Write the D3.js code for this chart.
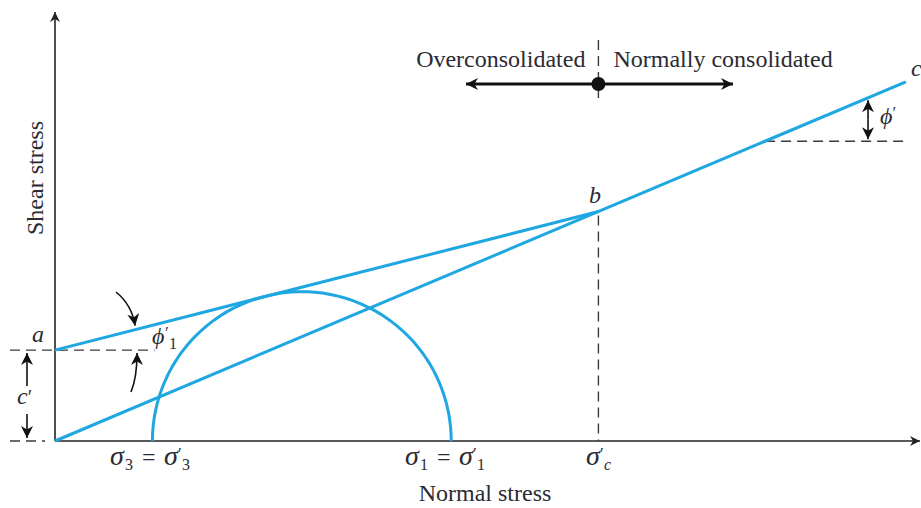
<!DOCTYPE html>
<html>
<head>
<meta charset="utf-8">
<script src="https://cdn.jsdelivr.net/npm/d3@7"></script>
<style>
  body { margin: 0; background: #fff; }
  text { font-family: "Liberation Serif", "DejaVu Serif", serif; fill: #2b2b33; }
  .it { font-style: italic; }
</style>
</head>
<body>
<div id="chart"></div>
<script>
// Stress values (arbitrary units, same scale on both axes)
const principalStresses = [45, 183];      // sigma3, sigma1
const preconsolidation = [251];           // sigma'c
const cohesion = [42];                    // c'
const envelopeB = [251, 106];             // point b (sigma, tau)
const envelopeEnd = [393];                // sigma at point c
const regionLabels = ["Overconsolidated", "Normally consolidated"];
const axisTitles = ["Normal stress", "Shear stress"];
const stressSubs = ["3", "1", "c"];

const width = 921, height = 508;
const BLUE = "#1fa7e1", DASH = "#3a3a3a";

const svg = d3.select("#chart").append("svg")
  .attr("width", width)
  .attr("height", height);

// equal unit length on both axes so the Mohr circle stays round
const x = d3.scaleLinear().domain([0, 400]).range([55, 921]);
const y = d3.scaleLinear().domain([0, 198.2]).range([441, 12]);

// arrow markers
const defs = svg.append("defs");
function marker(id, w, h, color) {
  defs.append("marker")
    .attr("id", id)
    .attr("viewBox", "0 0 10 10")
    .attr("refX", 10).attr("refY", 5)
    .attr("markerUnits", "userSpaceOnUse")
    .attr("markerWidth", w).attr("markerHeight", h)
    .attr("orient", "auto-start-reverse")
    .append("path")
    .attr("d", "M0,0 L10,5 L0,10 L3,5 Z")
    .attr("fill", color);
}
marker("axisHead", 14, 10, "#222");
marker("head", 15, 12, "#111");

const slopeNC = envelopeB[1] / envelopeB[0];
const slopeOC = (envelopeB[1] - cohesion[0]) / envelopeB[0];
const tauNC = s => slopeNC * s;

// ---------- axes ----------
svg.append("line")
  .attr("x1", x(0)).attr("y1", y(0))
  .attr("x2", width - 1).attr("y2", y(0))
  .attr("stroke", "#222").attr("stroke-width", 1.6)
  .attr("marker-end", "url(#axisHead)");
svg.append("line")
  .attr("x1", x(0)).attr("y1", y(0))
  .attr("x2", x(0)).attr("y2", 12)
  .attr("stroke", "#222").attr("stroke-width", 1.6)
  .attr("marker-end", "url(#axisHead)");

svg.append("text")
  .attr("transform", "translate(43,178) rotate(-90)")
  .attr("text-anchor", "middle")
  .style("font-size", "24px")
  .text(axisTitles[1]);
svg.append("text")
  .attr("x", 485).attr("y", 501)
  .attr("text-anchor", "middle")
  .style("font-size", "24px")
  .text(axisTitles[0]);

// ---------- dashed guides ----------
const dashed = (x1, y1, x2, y2) => svg.append("line")
  .attr("x1", x1).attr("y1", y1).attr("x2", x2).attr("y2", y2)
  .attr("stroke", DASH).attr("stroke-width", 1.4)
  .attr("stroke-dasharray", "10,6");

dashed(10, y(0), 45, y(0));
dashed(10, y(cohesion[0]), x(46), y(cohesion[0]));
dashed(x(preconsolidation[0]), 40, x(preconsolidation[0]), 102);
dashed(x(preconsolidation[0]), y(envelopeB[1]) + 4, x(preconsolidation[0]), y(0));
dashed(x(328), y(tauNC(328)), x(envelopeEnd[0]), y(tauNC(328)));

// ---------- Mohr circle ----------
const centre = (principalStresses[0] + principalStresses[1]) / 2;
const radius = (principalStresses[1] - principalStresses[0]) / 2;
const circlePts = d3.range(0, 181, 2).map(a => {
  const t = a * Math.PI / 180;
  return [centre + radius * Math.cos(t), radius * Math.sin(t)];
});
svg.append("path")
  .datum(circlePts)
  .attr("d", d3.line().x(d => x(d[0])).y(d => y(d[1])))
  .attr("fill", "none").attr("stroke", BLUE).attr("stroke-width", 3);

// ---------- failure envelopes ----------
svg.append("line")
  .attr("x1", x(0)).attr("y1", y(0))
  .attr("x2", x(envelopeEnd[0])).attr("y2", y(tauNC(envelopeEnd[0])))
  .attr("stroke", BLUE).attr("stroke-width", 3);
svg.append("line")
  .attr("x1", x(0)).attr("y1", y(cohesion[0]))
  .attr("x2", x(envelopeB[0])).attr("y2", y(envelopeB[1]))
  .attr("stroke", BLUE).attr("stroke-width", 3);

// ---------- point labels ----------
const label = (tx, ty, s) => svg.append("text")
  .attr("class", "it").attr("x", tx).attr("y", ty)
  .style("font-size", "24px").text(s);
label(32, 342, "a");
label(589, 203, "b");
label(911, 76, "c");

// ---------- stress tick labels ----------
// piecewise symbol: main glyph, then prime above and subscript below
function symbol(x0, base, glyph, sub, opts) {
  const t = svg.append("text").attr("y", base).style("font-size", "24px");
  t.append("tspan").attr("class", "it").attr("x", x0)
    .style("font-size", (opts.gs || 24) + "px").text(glyph);
  if (opts.prime) {
    t.append("tspan").attr("x", x0 + opts.gw).attr("y", base - 6)
      .style("font-size", "17px").text("′");
  }
  t.append("tspan").attr("class", opts.subIt ? "it" : null)
    .attr("x", x0 + opts.gw + (opts.prime ? 4 : 1)).attr("y", base + 5)
    .style("font-size", "16px").text(sub);
  return t;
}
function sigmaPair(x0, sub) {
  symbol(x0, 465, "σ", sub, { gw: 14, gs: 28 });
  svg.append("text").attr("x", x0 + 32).attr("y", 465)
    .style("font-size", "24px").text("=");
  symbol(x0 + 54, 465, "σ", sub, { gw: 14, gs: 28, prime: true });
}
sigmaPair(110, stressSubs[0]);
sigmaPair(405, stressSubs[1]);
symbol(586, 465, "σ", stressSubs[2], { gw: 14, gs: 28, prime: true, subIt: true });

// ---------- consolidation arrow ----------
const xc = x(preconsolidation[0]);
svg.append("line")
  .attr("x1", xc).attr("y1", 84).attr("x2", 466).attr("y2", 84)
  .attr("stroke", "#111").attr("stroke-width", 3)
  .attr("marker-end", "url(#head)");
svg.append("line")
  .attr("x1", xc).attr("y1", 84).attr("x2", 733).attr("y2", 84)
  .attr("stroke", "#111").attr("stroke-width", 3)
  .attr("marker-end", "url(#head)");
svg.append("circle")
  .attr("cx", xc).attr("cy", 84).attr("r", 7).attr("fill", "#111");
svg.append("text")
  .attr("x", xc - 13).attr("y", 67).attr("text-anchor", "end")
  .style("font-size", "24px").text(regionLabels[0]);
svg.append("text")
  .attr("x", xc + 15).attr("y", 67)
  .style("font-size", "24px").text(regionLabels[1]);

// ---------- c' double arrow ----------
const yc = y(cohesion[0]);
svg.append("line")
  .attr("x1", 27).attr("y1", 386).attr("x2", 27).attr("y2", yc + 3)
  .attr("stroke", "#111").attr("stroke-width", 1.6)
  .attr("marker-end", "url(#head)");
svg.append("line")
  .attr("x1", 27).attr("y1", 414).attr("x2", 27).attr("y2", y(0) - 3)
  .attr("stroke", "#111").attr("stroke-width", 1.6)
  .attr("marker-end", "url(#head)");
const cl = svg.append("text").attr("x", 17).attr("y", 404)
  .style("font-size", "24px");
cl.append("tspan").attr("class", "it").text("c");
cl.append("tspan").style("font-size", "20px").text("′");

// ---------- phi'1 annotation ----------
symbol(152, 344, "ϕ", "1", { gw: 13, prime: true });

svg.append("path")
  .attr("d", `M116,292 Q132,305 ${x(37)},${y(cohesion[0] + slopeOC * 37) - 4}`)
  .attr("fill", "none").attr("stroke", "#111").attr("stroke-width", 1.6)
  .attr("marker-end", "url(#head)");
svg.append("path")
  .attr("d", `M131,392 Q137,378 137,${yc + 3}`)
  .attr("fill", "none").attr("stroke", "#111").attr("stroke-width", 1.6)
  .attr("marker-end", "url(#head)");

// ---------- phi' annotation ----------
const sx = 376;
const yTop = y(tauNC(sx)) + 3, yBot = y(tauNC(328)) - 2;
const ymid = (yTop + yBot) / 2;
svg.append("line")
  .attr("x1", x(sx) - 1).attr("y1", ymid).attr("x2", x(sx) - 1).attr("y2", yTop)
  .attr("stroke", "#111").attr("stroke-width", 1.6)
  .attr("marker-end", "url(#head)");
svg.append("line")
  .attr("x1", x(sx) - 1).attr("y1", ymid).attr("x2", x(sx) - 1).attr("y2", yBot)
  .attr("stroke", "#111").attr("stroke-width", 1.6)
  .attr("marker-end", "url(#head)");
const pp = svg.append("text").attr("x", 880).attr("y", 124)
  .style("font-size", "24px");
pp.append("tspan").attr("class", "it").text("ϕ");
pp.append("tspan").attr("dy", -6).style("font-size", "17px").text("′");
</script>
</body>
</html>
